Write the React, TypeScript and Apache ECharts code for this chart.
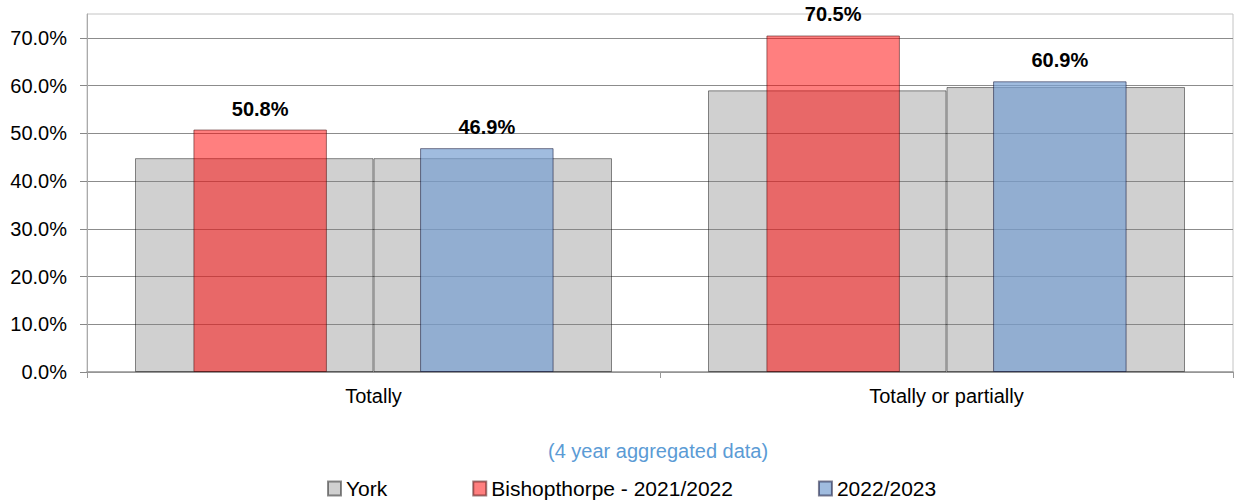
import React, { useEffect, useRef } from "react";
import * as echarts from "echarts";

const categories = ["Totally", "Totally or partially"];
const yorkA = [44.8, 59.0];
const yorkB = [44.8, 59.7];
const bishopthorpe2122 = [50.8, 70.5];
const bishopthorpe2223 = [46.9, 60.9];
const yTicks = [0, 10, 20, 30, 40, 50, 60, 70];
const legendNames = ["York", "Bishopthorpe - 2021/2022", "2022/2023"];
const subtitle = "(4 year aggregated data)";

const FONT = "'Liberation Sans', Arial, Helvetica, sans-serif";

export default function App() {
  const ref = useRef<HTMLDivElement>(null);
  useEffect(() => {
    if (!ref.current) return;
    const chart = echarts.init(ref.current, undefined, { renderer: "svg" });
    const greyStyle = {
      color: "rgba(128,128,128,0.37)",
      borderColor: "rgba(0,0,0,0.45)",
      borderWidth: 1,
    };
    const label = {
      show: true,
      position: "top",
      distance: 11,
      fontFamily: FONT,
      fontSize: 20,
      fontWeight: "bold",
      color: "#000",
      formatter: (p: any) => Number(p.value).toFixed(1) + "%",
    };
    chart.setOption({
      animation: false,
      textStyle: { fontFamily: FONT },
      grid: {
        left: 87,
        right: 1,
        top: 14,
        bottom: 128,
        show: true,
        borderColor: "#c4c4c4",
        borderWidth: 1,
        backgroundColor: "transparent",
      },
      graphic: [
        {
          type: "text",
          left: 548,
          top: 441,
          style: {
            text: subtitle,
            fill: "#5b9bd5",
            font: `20px ${FONT}`,
          },
        },
      ],
      legend: {
        data: legendNames,
        left: 322,
        top: 473,
        itemGap: 85,
        itemWidth: 13,
        itemHeight: 14,
        icon: "rect",
        textStyle: { fontFamily: FONT, fontSize: 21, color: "#000" },
      },
      xAxis: [
        {
          type: "category",
          data: categories,
          boundaryGap: true,
          axisLine: { show: true, lineStyle: { color: "#999", width: 1.5 } },
          axisTick: { show: true, length: 6, lineStyle: { color: "#999" } },
          axisLabel: { fontFamily: FONT, fontSize: 20, color: "#000", margin: 14 },
        },
        {
          type: "category",
          data: categories,
          show: false,
        },
      ],
      yAxis: {
        type: "value",
        min: 0,
        max: 75,
        interval: 10,
        axisLine: { show: true, lineStyle: { color: "#aaa" } },
        axisTick: { show: true, length: 7, lineStyle: { color: "#888" }, customValues: yTicks },
        axisLabel: {
          fontFamily: FONT,
          fontSize: 20,
          color: "#000",
          margin: 20,
          customValues: yTicks,
          formatter: (v: number) => v.toFixed(1) + "%",
        },
        splitLine: {
          show: true,
          lineStyle: {
            color: ["#8c8c8c", "#8c8c8c", "#8c8c8c", "#8c8c8c", "#8c8c8c", "#8c8c8c", "#8c8c8c", "#8c8c8c", "#c4c4c4"],
            width: 1,
          },
        },
      },
      series: [
        {
          name: "York",
          type: "bar",
          xAxisIndex: 0,
          data: yorkA,
          barWidth: 238.5,
          barGap: "0%",
          itemStyle: greyStyle,
        },
        {
          name: "York",
          type: "bar",
          xAxisIndex: 0,
          data: yorkB,
          barWidth: 238.5,
          barGap: "0%",
          itemStyle: greyStyle,
        },
        {
          name: "Bishopthorpe - 2021/2022",
          type: "bar",
          xAxisIndex: 1,
          data: bishopthorpe2122,
          barWidth: 133.5,
          barGap: "69.8%",
          itemStyle: {
            color: "rgba(255,0,0,0.5)",
            borderColor: "rgba(60,0,0,0.5)",
            borderWidth: 1,
          },
          label,
        },
        {
          name: "2022/2023",
          type: "bar",
          xAxisIndex: 1,
          data: bishopthorpe2223,
          barWidth: 133.5,
          barGap: "69.8%",
          itemStyle: {
            color: "rgba(120,160,210,0.7)",
            borderColor: "rgba(0,0,40,0.5)",
            borderWidth: 1,
          },
          label,
        },
      ],
    });
    return () => chart.dispose();
  }, []);
  return (
    <div
      ref={ref}
      style={{ position: "fixed", left: 0, top: 0, width: 1234, height: 500, background: "#fff" }}
    />
  );
}
